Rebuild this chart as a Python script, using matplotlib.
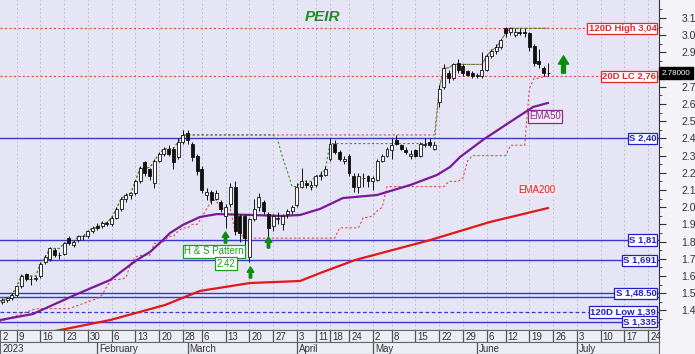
import matplotlib
matplotlib.use("Agg")
import matplotlib.pyplot as plt
import matplotlib.transforms as mtrans
from matplotlib.path import Path
import numpy as np
import pandas as pd

plt.rcParams['font.family'] = ['Liberation Sans', 'DejaVu Sans']

# ---- data (trading-day index 0 = 2 Jan 2023) ----
# late-December closes, only used to warm up the 20-day lines
dec_closes = [1.33, 1.34, 1.35, 1.36, 1.37, 1.38, 1.39, 1.40, 1.41, 1.42,
              1.43, 1.42, 1.41, 1.42, 1.43, 1.41, 1.42, 1.43, 1.44]

opens = [1.44, 1.45, 1.46, 1.47, 1.49, 1.54, 1.61, 1.58, 1.58, 1.60,
         1.68, 1.70, 1.75, 1.72, 1.73, 1.82, 1.78, 1.81, 1.83, 1.83,
         1.86, 1.89, 1.89, 1.91, 1.90, 1.94, 1.99, 2.05, 2.07, 2.08,
         2.15, 2.26, 2.22, 2.14, 2.27, 2.31, 2.34, 2.34, 2.29, 2.38,
         2.43, 2.37, 2.30, 2.22, 2.07, 2.09, 2.05, 2.03, 1.95, 2.02,
         2.12, 1.95, 1.95, 1.71, 1.93, 2.00, 2.03, 1.96, 1.89, 1.93,
         1.90, 1.96, 1.98, 2.01, 2.12, 2.14, 2.12, 2.13, 2.18, 2.19,
         2.28, 2.37, 2.32, 2.27, 2.30, 2.18, 2.12, 2.17, 2.18, 2.15,
         2.16, 2.27, 2.30, 2.33, 2.39, 2.36, 2.33, 2.30, 2.33, 2.30,
         2.36, 2.38, 2.34, 2.61, 2.70, 2.78, 2.75, 2.84, 2.82, 2.79,
         2.78, 2.76, 2.76, 2.80, 2.88, 2.91, 2.93, 3.04, 3.02, 3.00,
         3.02, 3.02, 3.01, 2.94, 2.85, 2.81, 2.78]
highs = [1.46, 1.47, 1.48, 1.50, 1.55, 1.61, 1.62, 1.60, 1.60, 1.68,
         1.72, 1.77, 1.76, 1.74, 1.80, 1.83, 1.81, 1.84, 1.84, 1.87,
         1.89, 1.91, 1.92, 1.92, 1.95, 2.00, 2.06, 2.08, 2.09, 2.16,
         2.24, 2.27, 2.23, 2.28, 2.32, 2.35, 2.36, 2.35, 2.40, 2.45,
         2.45, 2.38, 2.31, 2.24, 2.11, 2.10, 2.10, 2.04, 2.02, 2.14,
         2.15, 1.96, 1.96, 1.94, 2.05, 2.08, 2.04, 1.97, 1.96, 1.97,
         1.96, 1.99, 2.01, 2.14, 2.23, 2.16, 2.15, 2.19, 2.21, 2.24,
         2.40, 2.39, 2.33, 2.30, 2.31, 2.20, 2.20, 2.20, 2.19, 2.18,
         2.28, 2.31, 2.35, 2.40, 2.42, 2.37, 2.35, 2.33, 2.34, 2.38,
         2.40, 2.40, 2.38, 2.71, 2.83, 2.80, 2.84, 2.86, 2.83, 2.80,
         2.79, 2.78, 2.90, 2.89, 2.92, 2.95, 2.98, 3.05, 3.05, 3.04,
         3.04, 3.04, 3.02, 2.95, 2.92, 2.82, 2.84]
lows = [1.43, 1.44, 1.45, 1.46, 1.48, 1.53, 1.57, 1.55, 1.57, 1.59,
        1.67, 1.69, 1.71, 1.70, 1.72, 1.78, 1.77, 1.80, 1.81, 1.82,
        1.85, 1.87, 1.88, 1.89, 1.89, 1.93, 1.98, 2.03, 2.05, 2.07,
        2.14, 2.18, 2.16, 2.11, 2.26, 2.30, 2.30, 2.22, 2.28, 2.37,
        2.37, 2.27, 2.19, 2.08, 2.04, 2.02, 2.04, 1.97, 1.88, 2.00,
        1.84, 1.80, 1.77, 1.68, 1.92, 1.98, 1.96, 1.82, 1.86, 1.90,
        1.87, 1.94, 1.96, 2.00, 2.11, 2.11, 2.10, 2.12, 2.16, 2.18,
        2.27, 2.31, 2.27, 2.25, 2.18, 2.09, 2.08, 2.12, 2.12, 2.10,
        2.15, 2.26, 2.29, 2.28, 2.36, 2.33, 2.31, 2.28, 2.29, 2.29,
        2.35, 2.35, 2.33, 2.58, 2.69, 2.72, 2.74, 2.78, 2.76, 2.76,
        2.75, 2.75, 2.75, 2.79, 2.87, 2.89, 2.92, 2.99, 3.00, 2.99,
        3.00, 2.99, 2.91, 2.82, 2.81, 2.76, 2.76]
closes = [1.45, 1.46, 1.47, 1.49, 1.54, 1.60, 1.58, 1.58, 1.59, 1.67,
          1.71, 1.76, 1.72, 1.72, 1.79, 1.79, 1.80, 1.83, 1.83, 1.86,
          1.88, 1.88, 1.91, 1.90, 1.94, 1.99, 2.05, 2.07, 2.08, 2.15,
          2.23, 2.20, 2.18, 2.27, 2.31, 2.34, 2.31, 2.26, 2.38, 2.42,
          2.39, 2.29, 2.21, 2.10, 2.09, 2.04, 2.08, 1.99, 2.00, 2.12,
          1.86, 1.85, 1.82, 1.93, 1.99, 2.06, 1.98, 1.88, 1.95, 1.94,
          1.95, 1.98, 2.00, 2.12, 2.15, 2.13, 2.13, 2.18, 2.19, 2.22,
          2.37, 2.32, 2.28, 2.28, 2.20, 2.12, 2.18, 2.17, 2.15, 2.17,
          2.27, 2.30, 2.34, 2.36, 2.37, 2.34, 2.32, 2.31, 2.30, 2.37,
          2.37, 2.36, 2.36, 2.69, 2.81, 2.75, 2.83, 2.80, 2.78, 2.77,
          2.76, 2.77, 2.80, 2.88, 2.91, 2.93, 2.97, 3.01, 3.04, 3.02,
          3.01, 3.01, 2.93, 2.84, 2.83, 2.78, 2.78]

# moving averages (trading-day index, value)
ema50_idx = [0.5, 7.4, 16.3, 23.7, 29.3, 32.1, 34.8, 36.3, 39.0, 42.6, 46.2,
             53.1, 60.1, 63.7, 67.9, 72.7, 79.9, 86.9, 92.5, 95.3, 97.4,
             102.2, 107.9, 112.8, 115.9]
ema50_val = [1.344, 1.379, 1.490, 1.577, 1.693, 1.740, 1.809, 1.850, 1.897,
             1.943, 1.960, 1.955, 1.949, 1.955, 1.990, 2.053, 2.071, 2.129,
             2.187, 2.234, 2.292, 2.391, 2.495, 2.583, 2.606]
ema200_idx = [12.1, 23.7, 35.2, 42.6, 53.1, 63.7, 67.9, 75.3, 91.1, 103.7, 115.9]
ema200_val = [1.280, 1.344, 1.431, 1.513, 1.559, 1.571, 1.617, 1.693, 1.809,
              1.914, 1.995]

# support / level lines
sup_levels = [2.40, 1.81, 1.691, 1.50, 1.48, 1.335]
sup_labels = ['S 2,40', 'S 1,81', 'S 1,691', 'S 1,48.50', None, 'S 1,335']
low120 = 1.39
high120 = 3.04
lc20 = 2.76
last_price = 2.78

# x-axis weeks and months
week_idx = [0, 4, 9, 14, 19, 24, 29, 34, 39, 43, 48, 53, 58, 63, 67, 70, 74,
            79, 83, 88, 93, 98, 103, 107, 112, 117, 122, 127, 132, 137]
week_lab = ['2', '9', '16', '23', '30', '6', '13', '20', '28', '6', '13', '20',
            '27', '3', '11', '18', '24', '2', '8', '15', '22', '29', '6', '12',
            '19', '26', '3', '10', '17', '24']
month_idx = [0, 21, 40, 63, 79, 101, 122]
month_lab = ['2023', 'February', 'March', 'April', 'May', 'June', 'July']

# signal arrows (index, price) and big one
arrow_idx = [47.9, 53.2, 56.9]
arrow_val = [1.827, 1.623, 1.798]
big_arrow = (119.1, 2.833)

# ---- figure ----
W, H = 695, 354
fig = plt.figure(figsize=(W / 100, H / 100), dpi=100, facecolor='#f3f3f8')
ax = fig.add_axes([0, 24 / H, 659 / W, 330 / H])
ax.set_facecolor('#e5e5f5')
xmin, xmax = 0.485, 139.3
ax.set_xlim(xmin, xmax)
ax.set_ylim(1.286, 3.2047)

for w in week_idx:
    ax.axvline(w, color='#b4b4c8', lw=0.6, ls=(0, (2, 3)), zorder=0)

x = np.arange(len(closes))
o = np.array(opens); c = np.array(closes)
hi = np.array(highs); lo = np.array(lows)

# indicator lines from closes
nd = len(dec_closes)
cs = pd.Series(dec_closes + closes)
hc20 = cs.rolling(20, min_periods=1).max().to_numpy()[nd:]
lc20s = cs.rolling(20, min_periods=1).min().to_numpy()[nd:]
hc120 = cs.rolling(120, min_periods=1).max().to_numpy()[nd:]

trans = mtrans.blended_transform_factory(ax.transAxes, ax.transData)

blue = '#3838d0'
red_dot = '#e04848'
for lv in sup_levels:
    ax.axhline(lv, color=blue, lw=1.0, zorder=1)
ax.axhline(low120, color=blue, lw=0.9, ls=(0, (3, 2)), zorder=1)
ax.axhline(high120, color=red_dot, lw=0.8, ls=(0, (2, 2)), zorder=1)
ax.axhline(lc20, color=red_dot, lw=0.8, ls=(0, (2, 2)), zorder=1)

ax.plot(x, hc120, color=red_dot, lw=0.8, ls=(0, (2, 2)), zorder=2)
ax.plot(x, lc20s, color=red_dot, lw=0.8, ls=(0, (2, 2)), zorder=2)
ax.plot(x, hc20, color='#2a9a2a', lw=0.8, ls=(0, (2, 2)), zorder=2)

ax.plot(ema200_idx, ema200_val, color='#e01818', lw=1.6, zorder=3)
ax.plot(ema50_idx, ema50_val, color='#7a1a96', lw=1.6, zorder=3)

# candles
ax.vlines(x, lo, hi, color='#111111', lw=0.7, zorder=4)
up = c >= o
ax.bar(x[up], (c - o)[up], bottom=o[up], width=0.62, color='white',
       edgecolor='#111111', lw=0.6, zorder=5)
ax.bar(x[~up], (o - c)[~up], bottom=c[~up], width=0.62, color='#111111',
       edgecolor='#111111', lw=0.6, zorder=5)

# level labels
def lvl_label(y, s, col):
    ax.text(0.996, y, s, transform=trans, ha='right', va='center',
            fontsize=6.8, fontweight='bold', color=col, zorder=8,
            bbox=dict(boxstyle='square,pad=0.12', fc='white', ec=col, lw=0.9))

lvl_label(high120, '120D High 3,04', '#e02828')
lvl_label(lc20, '20D LC 2,76', '#e02828')
lvl_label(low120, '120D Low 1,39', '#2020c8')
for lv, lab in zip(sup_levels, sup_labels):
    if lab:
        lvl_label(lv, lab, '#2020c8')

ax.text(115.3, 2.53, 'EMA50', ha='center', va='center', fontsize=7,
        color='#8a2a90', zorder=8,
        bbox=dict(boxstyle='square,pad=0.15', fc='#f6eaf6', ec='#8a2a90', lw=0.9))
ax.text(113.6, 2.10, 'EMA200', ha='center', va='center', fontsize=7,
        color='#e02020', zorder=8,
        bbox=dict(boxstyle='square,pad=0.15', fc='#f6e6ee', ec='none'))

ax.text(68.5, 3.105, 'PEIR', ha='center', va='center', fontsize=11,
        fontweight='bold', fontstyle='italic', color='#1e8c1e')

grn = '#239a23'
ax.text(45.6, 1.745, 'H & S Pattern', ha='center', va='center', fontsize=7,
        color=grn, zorder=8,
        bbox=dict(boxstyle='square,pad=0.15', fc='white', ec=grn, lw=0.9))
ax.text(48.1, 1.67, '2.42', ha='center', va='center', fontsize=7,
        color=grn, zorder=8,
        bbox=dict(boxstyle='square,pad=0.15', fc='white', ec=grn, lw=0.9))

# up-arrow marker
arrow = Path([(-0.22, -1), (0.22, -1), (0.22, 0.05), (0.6, 0.05), (0, 1),
              (-0.6, 0.05), (-0.22, 0.05), (-0.22, -1)],
             [Path.MOVETO] + [Path.LINETO] * 6 + [Path.CLOSEPOLY])
ax.plot(arrow_idx, arrow_val, ls='none', marker=arrow, markersize=8,
        color='#0c8c0c', mec='#0c8c0c', zorder=8)
ax.plot([big_arrow[0]], [big_arrow[1]], ls='none', marker=arrow,
        markersize=12.5, color='#0c8c0c', mec='#0c8c0c', zorder=8)

# right axis
for s in ['left', 'top']:
    ax.spines[s].set_visible(False)
ax.spines['right'].set_color('#333333')
ax.spines['bottom'].set_color('#333333')
ax.yaxis.tick_right()
yt = np.round(np.arange(1.4, 3.15, 0.1), 1)
ax.set_yticks(yt)
# 2.8 is covered by the last-price box
ax.set_yticklabels(['' if abs(v - 2.8) < 1e-6 else '%.1f' % v for v in yt])
ax.set_yticks(np.arange(1.35, 3.2, 0.05), minor=True)
ax.tick_params(axis='y', which='major', length=5, width=0.8, pad=11,
               labelsize=7.5, colors='#333333')
ax.tick_params(axis='y', which='minor', length=2.5, width=0.6, colors='#333333')
ax.set_xticks([])

ax.text(1.004, last_price, '2.78000', transform=trans, ha='left', va='center',
        fontsize=5.8, color='white', zorder=9, clip_on=False,
        bbox=dict(boxstyle='square,pad=0.35', fc='black', ec='black'))

# date strips
for pos, labs, bottom in [(week_idx, week_lab, 12), (month_idx, month_lab, 0)]:
    a = fig.add_axes([0, bottom / H, 659 / W, 12 / H])
    a.set_facecolor('#ededf6')
    a.set_xlim(xmin, xmax)
    a.set_ylim(0, 1)
    a.set_xticks([]); a.set_yticks([])
    for s in a.spines.values():
        s.set_color('#666666'); s.set_linewidth(0.8)
    for p, lab in zip(pos, labs):
        if p > xmin:
            a.axvline(p, color='#555555', lw=0.9)
        a.text(max(p, xmin) + 0.45, 0.45, lab, ha='left', va='center',
               fontsize=7, color='#333333')

fig.savefig('out.png', dpi=100, facecolor=fig.get_facecolor())
